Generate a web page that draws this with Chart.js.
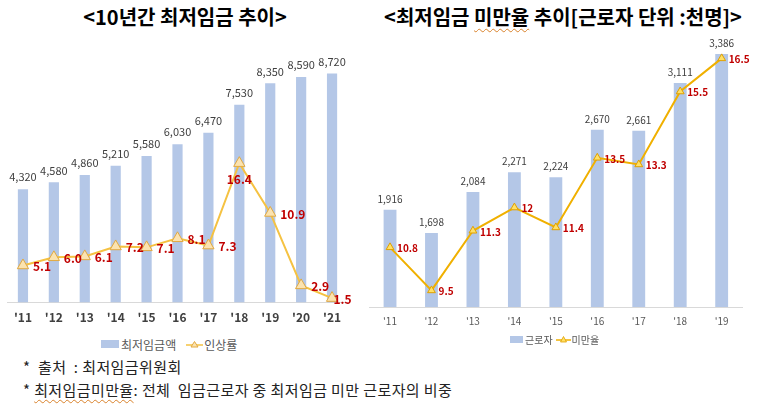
<!DOCTYPE html>
<html><head><meta charset="utf-8">
<script src="https://cdn.jsdelivr.net/npm/chart.js@4"></script>
<style>
body{margin:0;width:758px;height:405px;background:#fff;position:relative;overflow:hidden;font-family:"Noto Sans CJK KR","Noto Sans",sans-serif;}
.title{position:absolute;top:4px;line-height:26px;font-size:20px;font-weight:700;color:#000;text-align:center;white-space:nowrap;}
.wavy{text-decoration:underline wavy #d9822b;text-decoration-thickness:1px;text-underline-offset:3px;}
canvas{position:absolute;top:0;}
.legend{position:absolute;display:flex;align-items:center;color:#595959;white-space:nowrap;}
.note{position:absolute;left:23px;font-size:15px;letter-spacing:0.4px;color:#222;white-space:nowrap;line-height:18px;}
</style></head><body>
<div class="title" style="left:0;width:370px;">&lt;10년간 최저임금 추이&gt;</div>
<div class="title" style="left:378px;width:370px;">&lt;최저임금 <span class="wavy">미만율</span> 추이[근로자 단위 :천명]&gt;</div>
<canvas id="c1" width="355" height="333" style="left:0;width:355px;height:333px;"></canvas>
<canvas id="c2" width="398" height="335" style="left:360px;width:398px;height:335px;"></canvas>
<div class="legend" style="left:101px;top:336px;height:16px;font-size:12px;">
  <span style="display:inline-block;width:18px;height:8px;background:#b4c7e7;margin-right:2px;"></span><span id="lg1a"></span>
  <svg width="17" height="12" style="margin-left:10px;margin-right:1px;"><line x1="0" y1="7" x2="17" y2="7" stroke="#f5c242" stroke-width="1.5"/><polygon points="8.5,3.5 12,9 5,9" fill="#fbe3b0" stroke="#e2a940" stroke-width="1"/></svg><span id="lg1b"></span>
</div>
<div class="legend" style="left:510px;top:332px;height:14px;font-size:10px;">
  <span style="display:inline-block;width:13px;height:7px;background:#b4c7e7;margin-right:2px;"></span><span id="lg2a"></span>
  <svg width="15" height="10" style="margin-left:3px;margin-right:1px;"><line x1="0" y1="6" x2="15" y2="6" stroke="#f0b000" stroke-width="1.5"/><polygon points="7.5,2.5 10.5,8 4.5,8" fill="#ffe066" stroke="#e0a000" stroke-width="0.8"/></svg><span id="lg2b"></span>
</div>
<div class="note" style="top:358px;">*&nbsp; 출처&nbsp; : 최저임금위원회</div>
<div class="note" style="top:381px;">*&nbsp;<span class="wavy">최저임금미만율</span>: 전체&nbsp; 임금근로자 중 최저임금 미만 근로자의 비중</div>
<script>
// ---- data: chart 1 ----
const years1 = ["'11","'12","'13","'14","'15","'16","'17","'18","'19","'20","'21"];
const wage = [4320,4580,4860,5210,5580,6030,6470,7530,8350,8590,8720];
const wageRate = [5.1,6.0,6.1,7.2,7.1,8.1,7.3,16.4,10.9,2.9,1.5];
const legend1 = ["최저임금액","인상률"];
// ---- data: chart 2 ----
const years2 = ["'11","'12","'13","'14","'15","'16","'17","'18","'19"];
const workers = [1916,1698,2084,2271,2224,2670,2661,3111,3386];
const underRate = [10.8,9.5,11.3,12,11.4,13.5,13.3,15.5,16.5];
const legend2 = ["근로자","미만율"];

document.getElementById('lg1a').textContent = legend1[0];
document.getElementById('lg1b').textContent = legend1[1];
document.getElementById('lg2a').textContent = legend2[0];
document.getElementById('lg2b').textContent = legend2[1];

const FONT = '"Noto Sans CJK KR","Noto Sans",sans-serif';

const valueLabels = {
  id: 'valueLabels',
  afterDatasetsDraw(chart, args, opts) {
    const ctx = chart.ctx;
    const area = chart.chartArea;
    chart.data.datasets.forEach((ds, i) => {
      const meta = chart.getDatasetMeta(i);
      const cfg = opts[ds.type];
      if (!cfg) return;
      ctx.save();
      ctx.font = cfg.font;
      ctx.fillStyle = cfg.color;
      ctx.textBaseline = 'middle';
      meta.data.forEach((el, j) => {
        const text = cfg.format(ds.data[j]);
        const w = ctx.measureText(text).width;
        if (ds.type === 'bar') {
          ctx.textAlign = 'center';
          ctx.fillText(text, el.x, el.y - cfg.gap);
        } else {
          const below = (cfg.below || []).includes(j);
          if (below) {
            ctx.textAlign = 'center';
            ctx.fillText(text, el.x, el.y + cfg.belowGap);
          } else {
            ctx.textAlign = 'left';
            let x = el.x + cfg.gap;
            x = Math.min(x, area.right + cfg.overflow - w);
            ctx.fillText(text, x, el.y + 1);
          }
        }
      });
      ctx.restore();
    });
  }
};

new Chart(document.getElementById('c1'), {
  data: {
    labels: years1,
    datasets: [
      { type: 'line', data: wageRate, yAxisID: 'y2', order: 0,
        borderColor: '#f5c242', borderWidth: 2, pointStyle: 'triangle', pointRadius: 6.5,
        pointBackgroundColor: '#fbe3b0', pointBorderColor: '#e2a940', pointBorderWidth: 1, tension: 0 },
      { type: 'bar', data: wage, yAxisID: 'y', order: 1,
        backgroundColor: '#b4c7e7', categoryPercentage: 1, barPercentage: 0.33 }
    ]
  },
  options: {
    responsive: false, animation: false,
    layout: { padding: { top: 40, left: 7.5, right: 6.5, bottom: 0 } },
    plugins: { legend: { display: false }, tooltip: { enabled: false },
      valueLabels: {
        bar: { font: '11px ' + FONT, color: '#404040', gap: 12, format: v => v.toLocaleString('en-US') },
        line: { font: 'bold 12px ' + FONT, color: '#c00000', gap: 10, overflow: 4, belowGap: 16, below: [7], format: v => v.toFixed(1) }
      } },
    scales: {
      x: { offset: true, grid: { display: false, drawTicks: false }, border: { color: '#d9d9d9', width: 1 },
        ticks: { padding: 8, color: '#404040', font: { family: FONT, size: 12, weight: 'bold' } } },
      y: { display: false, min: 0, max: 10000 },
      y2: { display: false, min: 1, max: 30 }
    }
  },
  plugins: [valueLabels]
});

new Chart(document.getElementById('c2'), {
  data: {
    labels: years2,
    datasets: [
      { type: 'line', data: underRate, yAxisID: 'y2', order: 0,
        borderColor: '#f0b000', borderWidth: 2, pointStyle: 'triangle', pointRadius: 4.5,
        pointBackgroundColor: '#ffe066', pointBorderColor: '#e0a000', pointBorderWidth: 1, tension: 0 },
      { type: 'bar', data: workers, yAxisID: 'y', order: 1,
        backgroundColor: '#b4c7e7', categoryPercentage: 1, barPercentage: 0.31 }
    ]
  },
  options: {
    responsive: false, animation: false,
    layout: { padding: { top: 41.8, left: 9.3, right: 15.6, bottom: 0 } },
    plugins: { legend: { display: false }, tooltip: { enabled: false },
      valueLabels: {
        bar: { font: '10px ' + FONT, color: '#404040', gap: 11, format: v => v.toLocaleString('en-US') },
        line: { font: 'bold 10px ' + FONT, color: '#c00000', gap: 7, overflow: 14, format: v => String(v) }
      } },
    scales: {
      x: { offset: true, grid: { display: false, drawTicks: false }, border: { color: '#d9d9d9', width: 1 },
        ticks: { padding: 8, color: '#595959', font: { family: FONT, size: 10 } } },
      y: { display: false, min: 1000, max: 3500 },
      y2: { display: false, min: 9, max: 17 }
    }
  },
  plugins: [valueLabels]
});
</script>
</body></html>
